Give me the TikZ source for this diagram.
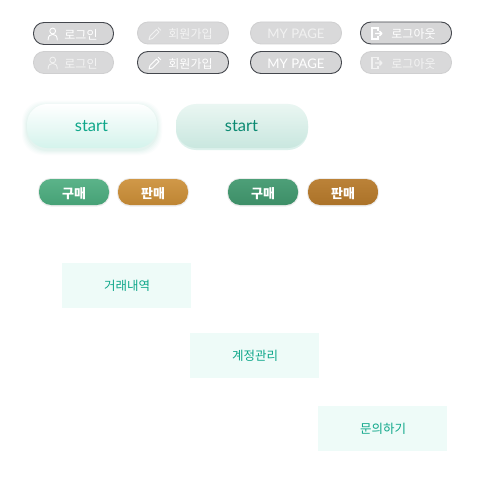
\documentclass[tikz,border=0pt]{standalone}
\usepackage{fontspec}
\setmainfont{Lato}
\newfontfamily\kr{Noto Sans CJK KR}
\definecolor{pillgray}{HTML}{D6D6D7}
\definecolor{pillgrayb}{HTML}{D9D9DA}
\definecolor{edgedark}{HTML}{44474D}
\definecolor{edgesoft}{HTML}{CFCFD0}
\definecolor{teal}{HTML}{0FA78A}
\definecolor{tealdark}{HTML}{0B8A72}
\definecolor{mintbg}{HTML}{EEFBF8}
\definecolor{startshadow}{HTML}{A8DDD0}
\definecolor{startlow}{HTML}{D4F3EC}
\definecolor{starttwotop}{HTML}{EAF6F2}
\definecolor{starttwolow}{HTML}{C9E7DF}
\definecolor{starttwoband}{HTML}{DDF1EC}
\tikzset{
  graypill/.style={rectangle,rounded corners=10.5pt,minimum height=22pt,inner sep=0pt,fill=pillgray},
  activepill/.style={graypill,draw=edgedark,line width=0.9pt},
  softpill/.style={graypill,draw=edgesoft,line width=0.8pt,fill=pillgrayb},
  lbl/.style={font=\kr\fontsize{12}{12}\selectfont,text=white,inner sep=0pt},
  dimlbl/.style={lbl,text=white!70!pillgray},
  mypage/.style={font=\fontsize{13.2}{13.2}\selectfont,text=white,inner sep=0pt},
  icn/.style={draw=white,line width=0.9pt,line cap=round,line join=round,fill=none},
  dimicn/.style={icn,draw=white!65!pillgray},
  starttext/.style={inner sep=0pt,font=\fontsize{16.5}{16.5}\selectfont},
  tradepill/.style={rectangle,rounded corners=12pt,minimum width=70pt,minimum height=26pt,inner sep=0pt},
  tradetext/.style={inner sep=0pt,text=white,font=\kr\bfseries\fontsize{13}{13}\selectfont},
  menubox/.style={rectangle,fill=mintbg,minimum width=129pt,minimum height=45pt,inner sep=0pt},
  menutext/.style={inner sep=0pt,text=teal,font=\kr\fontsize{12.5}{12.5}\selectfont},
}
\newcommand{\person}[3]{% x y style
  \begin{scope}[shift={(#1,#2)}]
    \draw[#3] (0,-3) circle (2.9);
    \draw[#3] (-4.6,6) .. controls (-4.6,1.8) and (-2.5,0.4) .. (0,0.4) .. controls (2.5,0.4) and (4.6,1.8) .. (4.6,6);
  \end{scope}}
\newcommand{\pencil}[3]{%
  \begin{scope}[shift={(#1,#2)}]
    \draw[#3] (-6,6) -- (-5,2.5) -- (1.5,-4) -- (4,-1.5) -- (-2.5,5) -- cycle;
    \draw[#3] (3.2,-5.7) -- (5.7,-3.2);
  \end{scope}}
\newcommand{\logouticon}[3]{%
  \begin{scope}[shift={(#1,#2)}]
    \draw[#3,line width=1.4pt,line cap=butt,line join=miter] (1.5,-2.8) -- (1.5,-5.5) -- (-4.5,-5.5) -- (-4.5,5.5) -- (1.5,5.5) -- (1.5,2.8);
    \draw[#3,line width=1.3pt,line cap=butt] (-1.5,0) -- (5,0) (3,-2.4) -- (5.4,0) -- (3,2.4);
  \end{scope}}
\begin{document}
\begin{tikzpicture}[x=1pt,y=-1pt]
\useasboundingbox (0,0) rectangle (500,500);
\fill[white] (0,0) rectangle (500,500);
% row 1
\node[activepill,minimum width=80pt] (login1) at (73.5,33.5) {};
\person{52.7}{34}{icn}
\node[lbl] (login1t) at (81,34.7) {로그인};
\node[softpill,minimum width=91pt] (join1) at (183,33) {};
\pencil{155}{33.5}{dimicn}
\node[dimlbl] (join1t) at (190.5,34.2) {회원가입};
\node[softpill,minimum width=91pt] (my1) at (296,33) {};
\node[mypage,text=white!65!pillgray] (my1t) at (296,34) {MY PAGE};
\node[activepill,minimum width=91pt] (out1) at (406,33) {};
\logouticon{376.5}{33.5}{icn}
\node[lbl] (out1t) at (413.5,34.5) {로그아웃};
% row 2
\node[softpill,minimum width=80pt] (login2) at (73.5,62.5) {};
\person{52.7}{63}{dimicn}
\node[dimlbl] (login2t) at (81,64) {로그인};
\node[activepill,minimum width=91pt] (join2) at (183,62.5) {};
\pencil{155}{63}{icn}
\node[lbl] (join2t) at (190.5,64) {회원가입};
\node[activepill,minimum width=91pt] (my2) at (296,62.5) {};
\node[mypage] (my2t) at (296,63.5) {MY PAGE};
\node[softpill,minimum width=91pt] (out2) at (406,62.5) {};
\logouticon{376.5}{63}{dimicn}
\node[dimlbl] (out2t) at (413.5,64) {로그아웃};
% start buttons
\foreach \r/\o in {5/0.04,4/0.05,3/0.06,2/0.08,1/0.1}{
  \fill[startshadow,opacity=\o,rounded corners=21pt]
    (27-\r,104+2-\r) rectangle (157+\r,148+2+\r);
}
\shade[rounded corners=20pt,top color=white,bottom color=startlow] (27,104) rectangle (157,148);
\node[starttext,text=teal] (s1) at (91.5,126) {start};
\fill[rounded corners=20pt,fill=starttwoband] (176,106) rectangle (308,150);
\shade[rounded corners=20pt,top color=starttwotop,bottom color=starttwolow] (176,104) rectangle (308,148);
\node[starttext,text=tealdark] (s2) at (241.5,126) {start};
% trade buttons
\foreach \cx/\ca/\cb/\nm/\tx in {74/5BB389/46A176/buy1/구매,153/D09848/BE8533/sell1/판매,263/4D9F78/3D8E67/buy2/구매,343/BB8238/AB7228/sell2/판매}{
  \definecolor{ca}{HTML}{\ca}\definecolor{cb}{HTML}{\cb}
  \fill[black,opacity=0.07,rounded corners=13pt] (\cx-36,178) rectangle (\cx+36,206.5);
  \node[tradepill,top color=ca,bottom color=cb] (\nm) at (\cx,192) {};
  \node[tradetext] (\nm t) at (\cx,193.2) {\tx};
}
% menu boxes
\node[menubox] (m1) at (126.5,285.5) {};
\node[menutext] (m1t) at (127,286) {거래내역};
\node[menubox] (m2) at (254.5,355.5) {};
\node[menutext] (m2t) at (255,356) {계정관리};
\node[menubox] (m3) at (382.5,428.5) {};
\node[menutext] (m3t) at (383,429) {문의하기};
\end{tikzpicture}
\end{document}
